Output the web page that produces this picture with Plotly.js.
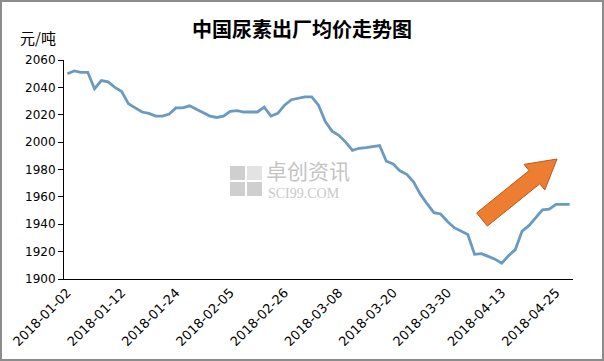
<!DOCTYPE html>
<html><head><meta charset="utf-8">
<script src="https://cdn.plot.ly/plotly-3.0.1.min.js"></script>
<style>
html,body{margin:0;padding:0;background:#fff}
#wrap{position:relative;width:604px;height:361px}
#chart{width:604px;height:361px}
#frame{position:absolute;left:0;top:0;width:604px;height:361px;box-sizing:border-box;border:2px solid #8c8c8c;pointer-events:none}
</style>
</head><body>
<div id="wrap"><div id="chart"></div><div id="frame"></div></div>
<script>
// ---- data ----
const dates = [
 '2018-01-02','2018-01-03','2018-01-04','2018-01-05','2018-01-08','2018-01-09','2018-01-10','2018-01-11','2018-01-12',
 '2018-01-15','2018-01-16','2018-01-17','2018-01-18','2018-01-19','2018-01-22','2018-01-23','2018-01-24',
 '2018-01-25','2018-01-26','2018-01-29','2018-01-30','2018-01-31','2018-02-01','2018-02-02','2018-02-05',
 '2018-02-06','2018-02-07','2018-02-08','2018-02-09','2018-02-12','2018-02-13','2018-02-14','2018-02-26',
 '2018-02-27','2018-02-28','2018-03-01','2018-03-02','2018-03-05','2018-03-06','2018-03-07','2018-03-08',
 '2018-03-09','2018-03-12','2018-03-13','2018-03-14','2018-03-15','2018-03-16','2018-03-19','2018-03-20',
 '2018-03-21','2018-03-22','2018-03-23','2018-03-26','2018-03-27','2018-03-28','2018-03-29','2018-03-30',
 '2018-04-02','2018-04-03','2018-04-04','2018-04-09','2018-04-10','2018-04-11','2018-04-12','2018-04-13',
 '2018-04-16','2018-04-17','2018-04-18','2018-04-19','2018-04-20','2018-04-23','2018-04-24','2018-04-25',
 '2018-04-26','2018-04-27'
];
const prices = [
 2050,2052,2051,2051,2039,2045,2044,2040,2037,
 2028,2025,2022,2021,2019,2019,2020.5,2025,
 2025,2026.5,2024,2021,2019,2018,2019,2022.5,
 2023,2022,2022,2022,2025.5,2019,2021,2027,
 2031,2032,2033,2033,2027,2015,2008,2005,
 2000,1994,1995.5,1996,1997,1997.5,1986,1984,
 1979,1976.5,1971,1962,1955,1948.5,1947.5,1942,
 1937.5,1935,1932.5,1918,1918.5,1916.5,1914.5,1911.5,
 1917,1921.5,1935,1939,1944.5,1950.5,1951,1954.5,
 1954.5,1954.5
];
const tickLabels = ['2018-01-02','2018-01-12','2018-01-24','2018-02-05','2018-02-26',
 '2018-03-08','2018-03-20','2018-03-30','2018-04-13','2018-04-25'];
const titleText = '中国尿素出厂均价走势图';
const unitText = '元/吨';

// ---- layout helpers ----
const W = 604, H = 361;
const M = {l:64, r:31, t:60, b:82};
const PW = W - M.l - M.r, PH = H - M.t - M.b;
const px = x => (x - M.l) / PW;
const py = y => (H - M.b - y) / PH;

function arrowPath(tail, tip, shaftHalf, headHalf, headLen){
  const dx = tip[0]-tail[0], dy = tip[1]-tail[1];
  const L = Math.hypot(dx, dy);
  const u = [dx/L, dy/L], n = [-u[1], u[0]];
  const b = [tip[0]-u[0]*headLen, tip[1]-u[1]*headLen];
  const pts = [
    [tail[0]-n[0]*shaftHalf, tail[1]-n[1]*shaftHalf],
    [b[0]-n[0]*shaftHalf, b[1]-n[1]*shaftHalf],
    [b[0]-n[0]*headHalf, b[1]-n[1]*headHalf],
    tip,
    [b[0]+n[0]*headHalf, b[1]+n[1]*headHalf],
    [b[0]+n[0]*shaftHalf, b[1]+n[1]*shaftHalf],
    [tail[0]+n[0]*shaftHalf, tail[1]+n[1]*shaftHalf]
  ];
  return 'M' + pts.map(p => px(p[0]).toFixed(4)+','+py(p[1]).toFixed(4)).join(' L') + ' Z';
}
function rectP(x0,y0,x1,y1,color){
  return {type:'rect', xref:'paper', yref:'paper', x0:px(x0), x1:px(x1), y0:py(y1), y1:py(y0),
          fillcolor:color, line:{width:0}, layer:'below'};
}

const N = dates.length;
const boundaries = [];
for (let i = 0; i < N; i += 10) boundaries.push(i - 0.5);

const shapes = [
  rectP(230,166,245,180,'#cfcfcf'),
  rectP(247,166,262,180,'#e3e3e3'),
  rectP(230,182,245,196,'#cfcfcf'),
  rectP(247,182,262,196,'#cfcfcf'),
  {type:'path', xref:'paper', yref:'paper',
   path: arrowPath([482,219.5],[557,159],8.5,16.5,29),
   fillcolor:'#ED7D31', line:{color:'#B65A1E', width:1}}
];

const trace = {
  x: dates, y: prices, type:'scatter', mode:'lines',
  line:{color:'#6a9abf', width:2.8}, hoverinfo:'x+y'
};

const layout = {
  width:W, height:H, margin:M,
  paper_bgcolor:'#fff', plot_bgcolor:'#fff',
  showlegend:false,
  font:{family:'DejaVu Sans, sans-serif', size:12, color:'#000'},
  title:{text:'<b>'+titleText+'</b>', xref:'container', yref:'container', x:0.5, y:1-30/H,
         xanchor:'center', yanchor:'middle',
         font:{family:'Noto Sans CJK SC', size:20, color:'#000'}},
  xaxis:{type:'category', range:[-0.5, N-0.5], tickmode:'array', tickvals:tickLabels, ticktext:tickLabels,
         tickangle:-45, ticks:'', showline:true, linecolor:'#000', linewidth:1,
         showgrid:false, zeroline:false,
         tickfont:{family:'DejaVu Sans', size:13, color:'#000'}},
  xaxis2:{overlaying:'x', anchor:'y', side:'bottom', type:'linear', range:[-0.5, N-0.5],
          tickmode:'array', tickvals:boundaries, ticks:'outside', ticklen:5, tickcolor:'#000', tickwidth:1,
          showticklabels:false, showline:false, showgrid:false, zeroline:false},
  yaxis:{range:[1900,2060], dtick:20, tick0:1900, ticks:'outside', ticklen:5, tickcolor:'#000',
         showline:true, linecolor:'#000', linewidth:1, showgrid:false, zeroline:false,
         tickfont:{family:'DejaVu Sans', size:12, color:'#000'}},
  shapes: shapes,
  annotations:[
    {text:unitText, xref:'paper', yref:'paper', x:px(38), y:py(38), showarrow:false,
     xanchor:'center', yanchor:'middle', font:{family:'Noto Sans CJK SC', size:15, color:'#000'}},
    {text:'卓创资讯', xref:'paper', yref:'paper', x:px(264), y:py(170), showarrow:false,
     xanchor:'left', yanchor:'middle', font:{family:'Noto Sans CJK SC', size:21, color:'#c4c4c4'}},
    {text:'SCI99.COM', xref:'paper', yref:'paper', x:px(266), y:py(193), showarrow:false,
     xanchor:'left', yanchor:'middle', font:{family:'Liberation Serif', size:14, color:'#c8c8c8'}}
  ]
};

Plotly.newPlot('chart', [trace], layout, {displayModeBar:false, staticPlot:true});
</script>
</body></html>
